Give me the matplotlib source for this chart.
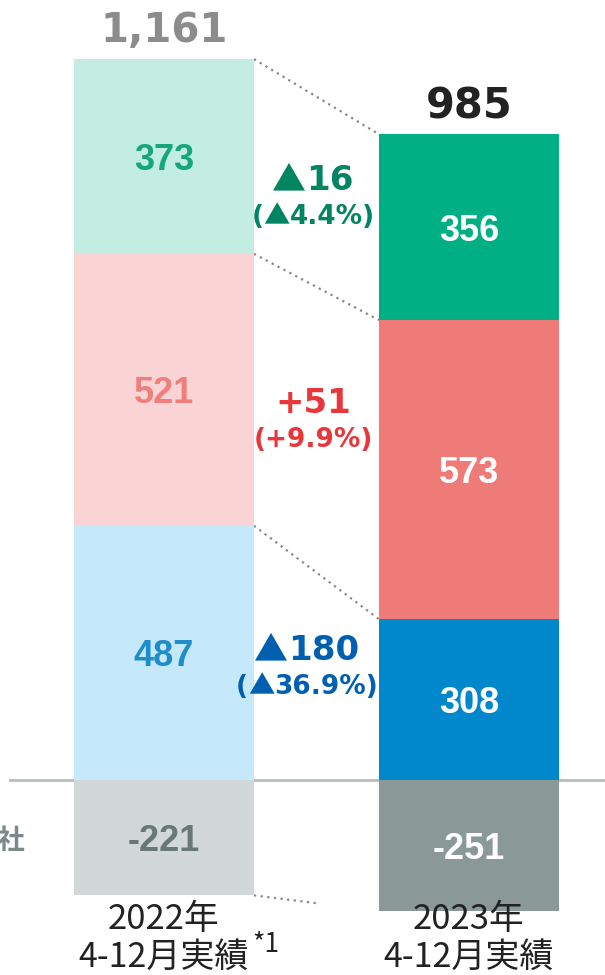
import numpy as np
import matplotlib.pyplot as plt

# values (bottom-up: blue, red, green; gray is negative)
periods = ['2022年\n4-12月実績', '2023年\n4-12月実績']
blue = [487, 308]
red = [521, 573]
green = [373, 356]
other = [-221, -251]
totals = [1161, 985]

diff_txt = ['▲180', '+51', '▲16']
pct_txt = ['(▲36.9%)', '(+9.9%)', '(▲4.4%)']

light = {'blue': '#c5e9fb', 'red': '#fad4d4', 'green': '#c3ede2', 'other': '#d2d7d7'}
dark = {'blue': '#0087cc', 'red': '#ef7b78', 'green': '#00b084', 'other': '#8a9998'}
label_col = {'blue': '#1f8ccb', 'red': '#f07f7c', 'green': '#15a67c', 'other': '#687876'}
diff_col = ['#005fb0', '#e8363a', '#008462']

scale = 0.522  # px per unit
fig = plt.figure(figsize=(6.05, 9.75), dpi=100)
ax = fig.add_axes([0, 0, 1, 1])
ax.set_xlim(0, 605)
ax.set_ylim(-(975 - 780) / scale, 780 / scale)
ax.axis('off')

xs = [164, 469]
w = 180
num_font = 'Liberation Sans'
cjk = ['Noto Sans CJK JP', 'DejaVu Sans']

ax.plot([10, 605], [0, 0], color='#b4bcbc', lw=2, zorder=1)

for i, x in enumerate(xs):
    cols = light if i == 0 else dark
    bottom = 0
    for key, vals in [('blue', blue), ('red', red), ('green', green)]:
        v = vals[i]
        ax.bar(x, v, w, bottom=bottom, color=cols[key], zorder=2)
        tc = label_col[key] if i == 0 else 'white'
        ax.text(x, bottom + v / 2, str(v), ha='center', va='center_baseline', fontsize=26,
                fontweight='bold', family=num_font, color=tc, zorder=3)
        bottom += v
    ax.bar(x, other[i], w, color=cols['other'], zorder=2)
    tc = label_col['other'] if i == 0 else 'white'
    ax.text(x, other[i] / 2, str(other[i]), ha='center', va='center_baseline', fontsize=26,
            fontweight='bold', family=num_font, color=tc, zorder=3)
    # total on top
    ax.text(x, bottom + 28 / scale, f'{totals[i]:,}', ha='center', va='center',
            fontsize=29 if i == 0 else 30, fontweight='bold', family='DejaVu Sans',
            color='#8c8c8c' if i == 0 else '#222222')
    # period labels
    l1, l2 = periods[i].split('\n')
    ax.text(x, -(920 - 780) / scale, l1, ha='center', va='center', fontsize=25,
            family=cjk, color='#222222')
    ax.text(x, -(957 - 780) / scale, l2, ha='center', va='center', fontsize=24.5,
            family=cjk, color='#222222')
ax.text(252, -(944 - 780) / scale, '*1', ha='left', va='center', fontsize=19,
        family=cjk, color='#222222')

# dotted connectors between stack boundaries
left_tops = np.cumsum([blue[0], red[0], green[0]])
right_tops = np.cumsum([blue[1], red[1], green[1]])
xl, xr = xs[0] + w / 2, xs[1] - w / 2
for a, b in zip(left_tops, right_tops):
    ax.plot([xl, xr], [a, b], color='#888888', lw=1.6, ls=(0, (1, 2)), zorder=1)
# bottom connector (fades out half-way)
ax.plot([xl, xl + (xr - xl) * 0.5], [other[0], other[0] + (other[1] - other[0]) * 0.5],
        color='#888888', lw=1.6, ls=(0, (1, 2)), zorder=1)


# difference annotations: the triangle comes from the CJK font, digits from DejaVu
renderer = fig.canvas.get_renderer()


def rich_text(xc, y, s, size, color):
    parts = []
    for ch in s:
        fam = cjk if ch == '▲' else 'DejaVu Sans'
        if parts and parts[-1][1] == fam:
            parts[-1][0] += ch
        else:
            parts.append([ch, fam])
    arts = []
    total = 0
    for txt, fam in parts:
        t = ax.text(0, y, txt, ha='left', va='baseline', fontsize=size,
                    fontweight='bold', family=fam, color=color)
        wpx = t.get_window_extent(renderer).width
        arts.append((t, wpx))
        total += wpx
    cur = xc - total / 2
    for t, wpx in arts:
        t.set_x(cur)
        cur += wpx


diff_base = [660, 413, 190]
diff_x = [307, 313, 313]
for t1, t2, c, yb, xc in zip(diff_txt, pct_txt, diff_col, diff_base, diff_x):
    rich_text(xc, (780 - yb) / scale, t1, 24.5, c)
    rich_text(xc, (780 - yb - 34) / scale, t2, 19, c)

# cut-off row label on the left
ax.text(25, -(840 - 780) / scale, '持分法会社', ha='right', va='center', fontsize=20,
        fontweight='bold', family=cjk, color='#7b8a89')

fig.savefig('out.png', dpi=100)
